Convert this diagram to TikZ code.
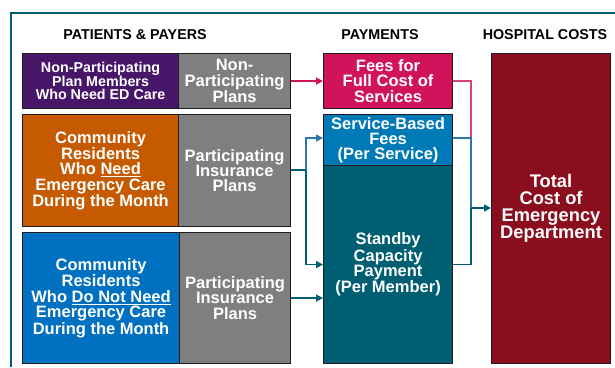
\documentclass[tikz,border=0pt]{standalone}
\usepackage{fontspec}
\setmainfont{Liberation Sans}
\usetikzlibrary{arrows.meta}

\definecolor{tealc}{RGB}{0,94,115}
\definecolor{purplec}{RGB}{72,22,104}
\definecolor{grayc}{RGB}{127,127,127}
\definecolor{orangec}{RGB}{197,90,0}
\definecolor{bluec}{RGB}{0,112,192}
\definecolor{pinkc}{RGB}{208,19,90}
\definecolor{svcblue}{RGB}{0,122,183}
\definecolor{linkblue}{RGB}{40,120,170}
\definecolor{redc}{RGB}{138,14,30}
\definecolor{edgec}{RGB}{30,30,30}

\tikzset{
  box/.style={draw=edgec, line width=1.1pt, anchor=north west, inner sep=0pt,
    text=white, align=center, font=\bfseries\fontsize{16.5}{15.3}\selectfont},
  smallbox/.style={box, font=\bfseries\fontsize{14.3}{12.9}\selectfont},
  bigbox/.style={box, font=\bfseries\fontsize{18.3}{17}\selectfont},
  head/.style={font=\bfseries\fontsize{14.3}{16}\selectfont},
  link/.style={line width=1.6pt, -{Triangle[length=7pt,width=7pt]}},
  plain/.style={line width=1.6pt}
}

\begin{document}
\begin{tikzpicture}[x=1pt,y=-1pt]
\useasboundingbox (0,0) rectangle (615,367);

% outer frame
\draw[tealc, line width=2.2pt] (11,367) -- (11,12.7) -- (615,12.7);

% column headings
\node[head] (hpat) at (135,35) {PATIENTS \& PAYERS};
\node[head] (hpay) at (380,35) {PAYMENTS};
\node[head] (hhos) at (545,35) {HOSPITAL COSTS};

% patients and payers
\node[smallbox, fill=purplec, minimum width=156pt, minimum height=55pt] (np) at (22,53)
  {Non-Participating\\Plan Members\\Who Need ED Care};
\node[box, fill=grayc, minimum width=112pt, minimum height=55pt] (npp) at (178,53)
  {Non-\\Participating\\Plans};

\node[box, fill=orangec, minimum width=156pt, minimum height=112pt] (need) at (22,114)
  {Community\\Residents\\Who \underline{Need}\\Emergency Care\\During the Month};
\node[box, fill=grayc, minimum width=112pt, minimum height=112pt] (pp2) at (178,114)
  {Participating\\Insurance\\Plans};

\node[box, fill=bluec, minimum width=157pt, minimum height=131pt] (noneed) at (22,232)
  {Community\\Residents\\Who \underline{Do Not Need}\\Emergency Care\\During the Month};
\node[box, fill=grayc, minimum width=111pt, minimum height=131pt] (pp3) at (179,232)
  {Participating\\Insurance\\Plans};

% payments
\node[box, fill=pinkc, minimum width=129pt, minimum height=55pt] (fees) at (323,53)
  {Fees for\\Full Cost of\\Services};
\node[box, fill=svcblue, minimum width=129pt, minimum height=51pt] (svc) at (323,114)
  {Service-Based\\Fees\\(Per Service)};
\node[box, fill=tealc, minimum width=129pt, minimum height=198pt] (stb) at (323,165)
  {Standby\\Capacity\\Payment\\(Per Member)};

% hospital costs
\node[bigbox, fill=redc, minimum width=119pt, minimum height=310pt] (hosp) at (491,53)
  {Total\\Cost of\\Emergency\\Department};

% junction points
\coordinate (split) at (306,170);
\coordinate (join) at (471,138);
\coordinate (hub) at (471,208);

% connectors into payments
\draw[link, pinkc] (npp.east |- np.east) -- (fees.west);
\draw[plain, tealc] (pp2.east |- split) -- (split);
\draw[link, linkblue] (split) |- (svc.west |- join);
\draw[link, tealc] (split) |- (stb.west);
\draw[link, tealc] (pp3.east) -- (stb.west |- pp3.east);

% connectors into hospital costs
\draw[plain, pinkc!80!white] (fees.east) -| (join);
\draw[plain, linkblue] (svc.east |- join) -| (hub);
\draw[plain, tealc] (stb.east) -| (hub);
\draw[link, tealc] (hub) -- (hosp.west |- hub);
\end{tikzpicture}
\end{document}
